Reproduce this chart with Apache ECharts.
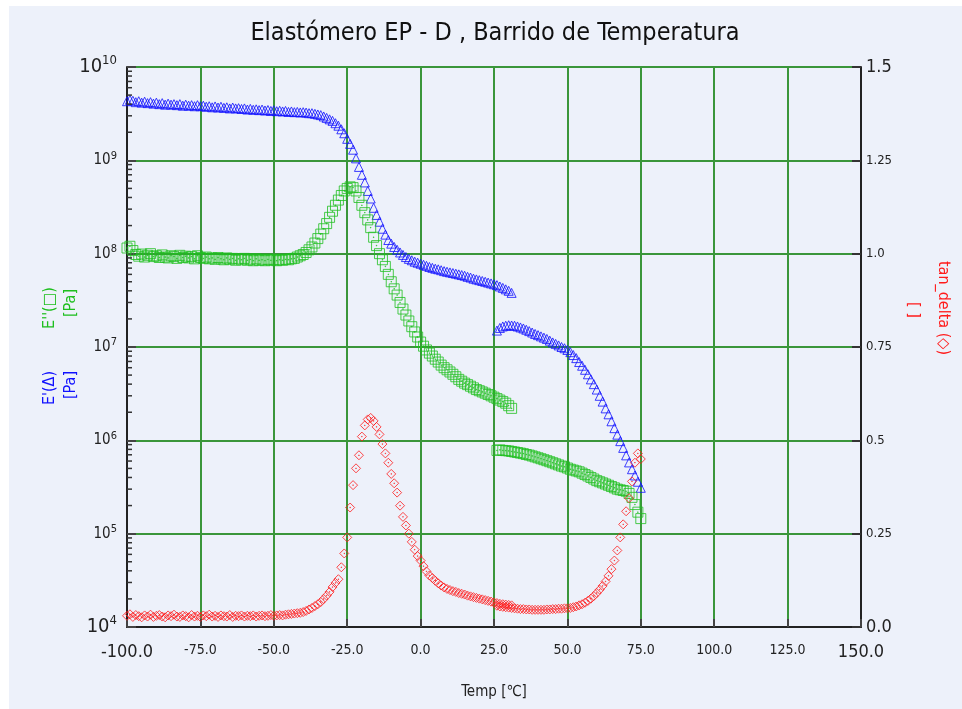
<!DOCTYPE html>
<html>
<head>
<meta charset="utf-8">
<title>Elastómero EP - D</title>
<script src="https://cdn.jsdelivr.net/npm/echarts@6/dist/echarts.min.js"></script>
<style>
  html, body { margin: 0; padding: 0; background: #ffffff; }
  #chart { width: 962px; height: 709px; }
</style>
</head>
<body>
<div id="chart"></div>
<script>
// Temperature sweep, first run (°C)
const temps1 = [-100,-99,-98,-97,-96,-95,-94,-93,-92,-91,
  -90,-89,-88,-87,-86,-85,-84,-83,-82,-81,
  -80,-79,-78,-77,-76,-75,-74,-73,-72,-71,
  -70,-69,-68,-67,-66,-65,-64,-63,-62,-61,
  -60,-59,-58,-57,-56,-55,-54,-53,-52,-51,
  -50,-49,-48,-47,-46,-45,-44,-43,-42,-41,
  -40,
  -39,-38,-37,-36,-35,-34,-33,-32,-31,-30,-29,-28,-27,-26,-25,-24,-23,-22,-21,-20,-19,-18,-17,-16,-15,-14,-13,-12,-11,-10,
  -9,-8,-7,-6,-5,-4,-3,-2,-1,0,1,2,3,4,5,6,7,8,9,10,11,12,13,14,15,16,17,18,19,20,21,22,23,24,25,26,27,28,29,30,31];

// Storage modulus E' (Pa), first run
const eStorage1 = [4.3e9,4.45e9,4.35e9,4.2e9,4.3e9,4.15e9,4.25e9,4.1e9,4.2e9,4.05e9,
  4.15e9,4.0e9,4.1e9,3.95e9,4.05e9,3.95e9,4.0e9,3.9e9,4.0e9,3.85e9,
  3.95e9,3.85e9,3.9e9,3.8e9,3.9e9,3.8e9,3.85e9,3.75e9,3.8e9,3.7e9,
  3.78e9,3.68e9,3.75e9,3.65e9,3.7e9,3.6e9,3.68e9,3.6e9,3.62e9,3.55e9,
  3.6e9,3.5e9,3.56e9,3.48e9,3.52e9,3.45e9,3.5e9,3.42e9,3.46e9,3.38e9,
  3.44e9,3.36e9,3.4e9,3.34e9,3.38e9,3.3e9,3.34e9,3.28e9,3.3e9,3.26e9,
  3.28e9,
  3.25e9,3.2e9,3.2e9,3.15e9,3.1e9,3.05e9,2.95e9,2.85e9,2.75e9,2.65e9,2.5e9,2.35e9,2.15e9,1.95e9,1.7e9,1.5e9,1.3e9,1.05e9,8.5e8,7.0e8,5.8e8,4.7e8,3.9e8,3.1e8,2.6e8,2.2e8,1.85e8,1.6e8,1.4e8,1.28e8,
  1.18e8,1.1e8,1.03e8,9.7e7,9.2e7,8.8e7,8.5e7,8.2e7,8.0e7,7.8e7,7.6e7,7.4e7,7.2e7,7.05e7,6.9e7,6.8e7,6.65e7,6.5e7,6.4e7,6.3e7,6.2e7,6.1e7,6.0e7,5.9e7,5.8e7,5.65e7,5.55e7,5.4e7,5.3e7,5.2e7,5.1e7,5.0e7,4.9e7,4.8e7,4.7e7,4.6e7,4.45e7,4.3e7,4.15e7,4.0e7,3.8e7];

// Loss modulus E'' (Pa), first run
const eLoss1 = [1.15e8,1.2e8,1.08e8,9.8e7,9.4e7,9.9e7,9.2e7,9.6e7,1.0e8,9.3e7,
  9.5e7,9.1e7,9.7e7,9.2e7,9.0e7,9.5e7,9.3e7,8.9e7,9.6e7,9.1e7,
  9.4e7,9.0e7,9.3e7,8.8e7,9.5e7,9.1e7,8.9e7,9.2e7,8.8e7,9.0e7,
  8.7e7,9.1e7,8.8e7,8.6e7,9.0e7,8.7e7,8.9e7,8.5e7,8.8e7,8.6e7,
  8.9e7,8.5e7,8.7e7,8.4e7,8.8e7,8.5e7,8.6e7,8.4e7,8.7e7,8.5e7,
  8.6e7,8.4e7,8.6e7,8.5e7,8.7e7,8.6e7,8.8e7,8.9e7,9.2e7,9.5e7,
  9.8e7,
  1.03e8,1.1e8,1.18e8,1.3e8,1.45e8,1.62e8,1.85e8,2.1e8,2.45e8,2.85e8,3.3e8,3.75e8,4.2e8,4.7e8,5.0e8,5.2e8,5.1e8,4.7e8,4.0e8,3.3e8,2.75e8,2.3e8,1.9e8,1.5e8,1.22e8,1.0e8,8.6e7,7.3e7,6.0e7,5.0e7,
  4.2e7,3.6e7,3.0e7,2.55e7,2.2e7,1.9e7,1.65e7,1.45e7,1.28e7,1.13e7,1.02e7,9.3e6,8.6e6,8.0e6,7.4e6,6.9e6,6.4e6,6.0e6,5.7e6,5.4e6,5.1e6,4.8e6,4.5e6,4.3e6,4.1e6,3.95e6,3.8e6,3.65e6,3.5e6,3.4e6,3.3e6,3.2e6,3.1e6,3.0e6,2.9e6,2.8e6,2.7e6,2.6e6,2.5e6,2.35e6,2.2e6];

// Loss factor tan δ, first run
const tanDelta1 = [0.030,0.034,0.027,0.032,0.029,0.026,0.031,0.028,0.033,0.027,
  0.030,0.032,0.028,0.026,0.031,0.029,0.033,0.028,0.027,0.031,
  0.029,0.026,0.032,0.028,0.030,0.027,0.031,0.029,0.033,0.028,
  0.030,0.027,0.031,0.029,0.028,0.032,0.027,0.030,0.029,0.031,
  0.028,0.030,0.029,0.031,0.028,0.030,0.031,0.029,0.030,0.032,
  0.030,0.031,0.032,0.031,0.033,0.034,0.035,0.036,0.037,0.038,
  0.040,
  0.043,0.047,0.051,0.056,0.061,0.067,0.075,0.084,0.094,0.107,0.118,0.128,0.160,0.197,0.240,0.320,0.380,0.425,0.460,0.510,0.540,0.556,0.560,0.552,0.536,0.516,0.490,0.465,0.440,0.410,
  0.385,0.360,0.325,0.295,0.272,0.250,0.228,0.207,0.190,0.178,0.163,0.149,0.138,0.131,0.124,0.117,0.111,0.106,0.102,0.099,0.096,0.094,0.091,0.089,0.087,0.084,0.082,0.080,0.078,0.076,0.074,0.072,0.070,0.068,0.066,0.064,0.062,0.061,0.060,0.059,0.058];

// Temperature sweep, second run (°C)
const temps2 = [26,27,28,29,30,31,32,33,34,35,36,37,38,39,40,41,42,43,44,45,46,47,48,49,50,
  51,52,53,54,55,56,57,58,59,60,61,62,63,64,65,66,67,68,69,70,71,72,73,74,75];

// Storage modulus E' (Pa), second run
const eStorage2 = [1.5e7,1.6e7,1.66e7,1.69e7,1.71e7,1.7e7,1.69e7,1.66e7,1.62e7,1.58e7,1.53e7,1.48e7,1.43e7,1.38e7,1.34e7,1.3e7,1.26e7,1.22e7,1.17e7,1.12e7,1.08e7,1.04e7,1.0e7,9.7e6,9.3e6,
  8.8e6,8.2e6,7.6e6,6.9e6,6.3e6,5.7e6,5.1e6,4.5e6,4.0e6,3.5e6,3.0e6,2.6e6,2.2e6,1.9e6,1.6e6,1.35e6,1.15e6,9.8e5,8.3e5,6.9e5,5.8e5,4.9e5,4.2e5,3.6e5,3.1e5];

// Loss modulus E'' (Pa), second run
const eLoss2 = [7.8e5,7.9e5,7.8e5,7.75e5,7.7e5,7.6e5,7.5e5,7.4e5,7.3e5,7.2e5,7.05e5,6.95e5,6.8e5,6.65e5,6.5e5,6.35e5,6.2e5,6.05e5,5.9e5,5.75e5,5.6e5,5.45e5,5.3e5,5.2e5,5.05e5,
  4.9e5,4.8e5,4.7e5,4.6e5,4.45e5,4.3e5,4.15e5,4.0e5,3.85e5,3.7e5,3.6e5,3.5e5,3.4e5,3.3e5,3.2e5,3.1e5,3.0e5,2.95e5,2.9e5,2.85e5,2.7e5,2.45e5,2.05e5,1.7e5,1.45e5];

// Loss factor tan δ, second run
const tanDelta2 = [0.057,0.055,0.054,0.053,0.052,0.051,0.050,0.049,0.048,0.048,0.047,0.047,0.046,0.046,0.046,0.046,0.046,0.047,0.047,0.048,0.048,0.049,0.049,0.050,0.050,
  0.051,0.053,0.055,0.058,0.061,0.065,0.070,0.076,0.083,0.091,0.100,0.110,0.122,0.137,0.155,0.178,0.205,0.240,0.275,0.310,0.345,0.390,0.440,0.465,0.450];

// Axis settings
const tempMin = -100, tempMax = 150, tempStep = 25;
const modMin = 1e4, modMax = 1e10;
const tanMin = 0, tanMax = 1.5, tanStep = 0.25;

const pair = (xs, ys) => xs.map((x, i) => [x, ys[i]]);

// log-axis minor tick values 2..9 × 10^n
const minorTicks = [];
for (let e = 4; e < 10; e++) {
  for (let k = 2; k <= 9; k++) minorTicks.push(k * Math.pow(10, e));
}

const FONT = "'DejaVu Sans Condensed', 'Liberation Sans Narrow', 'Liberation Sans', sans-serif";
const BLUE = '#1010ff', GREEN = '#1fbf1f', RED = '#ff1a1a';
const GRID = '#3a963a';

const sq = 'path://M0,0L10,0L10,10L0,10Z M4.7,4.7L5.3,4.7L5.3,5.3L4.7,5.3Z';
const dia = 'path://M5,0L10,5L5,10L0,5Z M4.7,4.7L5.3,4.7L5.3,5.3L4.7,5.3Z';

const chart = echarts.init(document.getElementById('chart'), null, { renderer: 'canvas' });

const option = {
  backgroundColor: '#ffffff',
  animation: false,
  textStyle: { fontFamily: FONT },
  graphic: [
    { type: 'rect', z: -10, silent: true, shape: { x: 9, y: 6, width: 953, height: 703 }, style: { fill: '#edf1fa' } },
    { type: 'text', x: 495, y: 33, style: { text: 'Elastómero EP - D , Barrido de Temperatura', font: "25px " + FONT, fill: '#111', align: 'center', verticalAlign: 'middle' } },
    // left titles (rotated)
    { type: 'text', x: 50, y: 308, rotation: Math.PI / 2, style: { text: "E''(\u25A1)", font: '16px ' + FONT, fill: GREEN, align: 'center', verticalAlign: 'middle' } },
    { type: 'text', x: 71, y: 303, rotation: Math.PI / 2, style: { text: '[Pa]', font: '16px ' + FONT, fill: GREEN, align: 'center', verticalAlign: 'middle' } },
    { type: 'text', x: 50, y: 388, rotation: Math.PI / 2, style: { text: "E'(\u0394)", font: '16px ' + FONT, fill: BLUE, align: 'center', verticalAlign: 'middle' } },
    { type: 'text', x: 71, y: 385, rotation: Math.PI / 2, style: { text: '[Pa]', font: '16px ' + FONT, fill: BLUE, align: 'center', verticalAlign: 'middle' } },
    // right titles
    { type: 'text', x: 943, y: 308, rotation: -Math.PI / 2, style: { text: 'tan_delta (\u25C7)', font: '16px ' + FONT, fill: RED, align: 'center', verticalAlign: 'middle' } },
    { type: 'text', x: 913, y: 310, rotation: -Math.PI / 2, style: { text: '[ ]', font: '16px ' + FONT, fill: RED, align: 'center', verticalAlign: 'middle' } }
  ],
  grid: { left: 127, right: 101, top: 67, bottom: 82, containLabel: false },
  xAxis: {
    type: 'value', min: tempMin, max: tempMax, interval: tempStep,
    name: 'Temp [\u2103]', nameLocation: 'middle', nameGap: 58,
    nameTextStyle: { fontSize: 15, color: '#222', fontFamily: FONT },
    axisLine: { show: true, onZero: false, lineStyle: { color: '#222', width: 2 } },
    axisTick: { show: true, inside: true, length: 8, lineStyle: { color: '#444', width: 2 } },
    axisLabel: {
      margin: 16, color: '#222',
      formatter: v => (v === tempMin || v === tempMax) ? '{b|' + v.toFixed(1) + '}' : '{s|' + v.toFixed(1) + '}',
      rich: { b: { fontSize: 18, fontFamily: FONT, color: '#222' }, s: { fontSize: 14, fontFamily: FONT, color: '#222' } }
    },
    splitLine: { show: true, lineStyle: { color: GRID, width: 2 } }
  },
  yAxis: [
    {
      type: 'log', logBase: 10, min: modMin, max: modMax,
      axisLine: { show: true, onZero: false, lineStyle: { color: '#222', width: 2 } },
      axisTick: { show: true, inside: true, length: 9, lineStyle: { color: '#444', width: 2 } },
      axisLabel: {
        margin: 10, color: '#222',
        formatter: v => {
          const e = Math.round(Math.log10(v));
          return (e === 10 || e === 4) ? '{b|10}{bs|' + e + '}' : '{s|10}{ss|' + e + '}';
        },
        rich: {
          b: { fontSize: 20, fontFamily: FONT, color: '#222' },
          bs: { fontSize: 13, fontFamily: FONT, color: '#222', padding: [0, 0, 12, 0] },
          s: { fontSize: 15, fontFamily: FONT, color: '#222' },
          ss: { fontSize: 11, fontFamily: FONT, color: '#222', padding: [0, 0, 9, 0] }
        }
      },
      splitLine: { show: true, lineStyle: { color: GRID, width: 2 } }
    },
    {
      type: 'value', min: tanMin, max: tanMax, interval: tanStep, position: 'right',
      axisLine: { show: true, onZero: false, lineStyle: { color: '#222', width: 2 } },
      axisTick: { show: true, inside: true, length: 9, lineStyle: { color: '#333', width: 2 } },
      axisLabel: {
        margin: 5, color: '#222',
        formatter: v => {
          const t = Number.isInteger(v * 2) ? v.toFixed(1) : String(v);
          return (v === tanMin || v === tanMax) ? '{b|' + t + '}' : '{s|' + t + '}';
        },
        rich: { b: { fontSize: 18, fontFamily: FONT, color: '#222' }, s: { fontSize: 13, fontFamily: FONT, color: '#222' } }
      },
      splitLine: { show: false }
    }
  ],
  series: [
    {
      // short minor ticks along the log axis
      type: 'custom', yAxisIndex: 0, silent: true, z: 5,
      data: minorTicks.map(v => [tempMin, v]),
      renderItem: (params, api) => {
        const p = api.coord([api.value(0), api.value(1)]);
        return { type: 'line', shape: { x1: p[0], y1: p[1], x2: p[0] + 5, y2: p[1] }, style: { stroke: '#333', lineWidth: 1.5 } };
      }
    },
    {
      name: "E'", type: 'scatter', yAxisIndex: 0, symbol: 'triangle', symbolSize: 9,
      data: pair(temps1, eStorage1),
      itemStyle: { color: 'transparent', borderColor: BLUE, borderWidth: 1 }
    },
    {
      name: "E'", type: 'scatter', yAxisIndex: 0, symbol: 'triangle', symbolSize: 9,
      data: pair(temps2, eStorage2),
      itemStyle: { color: 'transparent', borderColor: BLUE, borderWidth: 1 }
    },
    {
      name: "E''", type: 'scatter', yAxisIndex: 0, symbol: sq, symbolSize: 10,
      data: pair(temps1, eLoss1),
      itemStyle: { color: 'transparent', borderColor: GREEN, borderWidth: 1 }
    },
    {
      name: "E''", type: 'scatter', yAxisIndex: 0, symbol: sq, symbolSize: 10,
      data: pair(temps2, eLoss2),
      itemStyle: { color: 'transparent', borderColor: GREEN, borderWidth: 1 }
    },
    {
      name: 'tan_delta', type: 'scatter', yAxisIndex: 1, symbol: dia, symbolSize: 9,
      data: pair(temps1, tanDelta1),
      itemStyle: { color: 'transparent', borderColor: RED, borderWidth: 1 }
    },
    {
      name: 'tan_delta', type: 'scatter', yAxisIndex: 1, symbol: dia, symbolSize: 9,
      data: pair(temps2, tanDelta2),
      itemStyle: { color: 'transparent', borderColor: RED, borderWidth: 1 }
    }
  ]
};

chart.setOption(option);
</script>
</body>
</html>
